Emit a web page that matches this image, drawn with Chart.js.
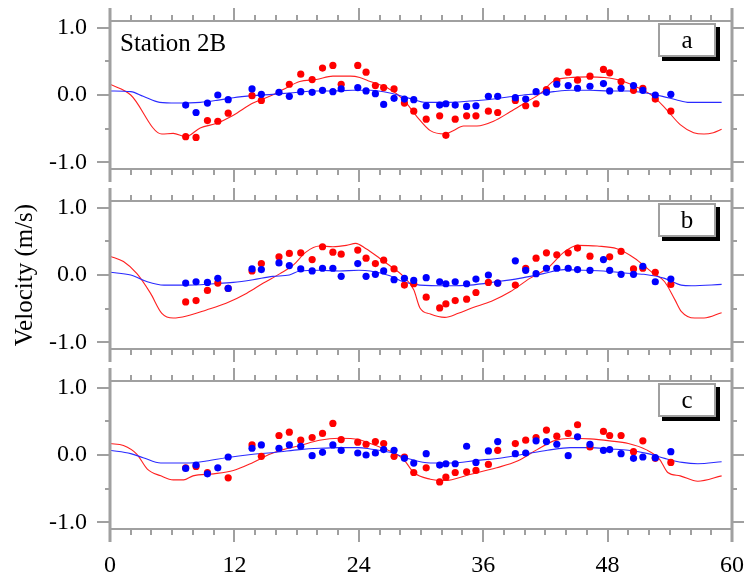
<!DOCTYPE html>
<html>
<head>
<meta charset="utf-8">
<script src="https://cdn.jsdelivr.net/npm/chart.js@4/dist/chart.umd.min.js"></script>
<style>
  body { margin: 0; background: #fff; }
  #wrap { position: relative; width: 747px; height: 582px; background: #fff; overflow: hidden; }
  canvas { position: absolute; left: 0; }
  .tag {
    position: absolute; left: 658px; width: 54px; height: 30px;
    border: 2px solid #a0a0a0; background: #fff; box-shadow: 4px 4px 0 #000;
    font: 25px "Liberation Serif", serif; line-height: 30px; text-align: center; color: #000;
  }
  .station { position: absolute; left: 120px; top: 30px; font: 25px "Liberation Serif", serif; line-height: 1; color: #000; }
</style>
</head>
<body>
<div id="wrap">
  <canvas id="panelA" width="747" height="190" style="top:0"></canvas>
  <canvas id="panelB" width="747" height="190" style="top:180px"></canvas>
  <canvas id="panelC" width="747" height="222" style="top:360px"></canvas>
  <div class="station">Station 2B</div>
  <div class="tag" style="top:23px">a</div>
  <div class="tag" style="top:203px">b</div>
  <div class="tag" style="top:383px">c</div>
</div>
<script>
/* ============================================================
   DATA (hours, velocity m/s)
   ============================================================ */

const hours = [7.3, 8.3, 9.4, 10.4, 11.4, 13.7, 14.6, 16.3, 17.3, 18.4, 19.5, 20.5, 21.5, 22.3, 23.9, 24.7,
  25.6, 26.4, 27.4, 28.4, 29.3, 30.5, 31.8, 32.4, 33.3, 34.4, 35.3, 36.5, 37.4, 39.1, 40.1, 41.1,
  42.1, 43.1, 44.2, 45.1, 46.3, 47.6, 48.2, 49.3, 50.5, 51.4, 52.6, 54.1];

// observed points
const redObsA  = [-0.62, -0.63, -0.38, -0.39, -0.27, -0.01, -0.08, null, 0.16, 0.31, 0.23, 0.40, 0.44, 0.16, 0.44, 0.34,
  0.14, 0.11, 0.09, -0.12, -0.24, -0.36, -0.31, -0.60, -0.36, -0.31, -0.31, -0.24, -0.26, -0.08, -0.16, -0.13,
  0.08, 0.21, 0.34, 0.22, 0.28, 0.38, 0.33, 0.20, 0.07, 0.10, -0.06, -0.24];
const blueObsA = [-0.15, -0.26, -0.12, 0.00, -0.07, 0.09, 0.01, 0.04, -0.02, 0.05, 0.04, 0.07, 0.05, 0.09, 0.11, 0.06,
  0.02, -0.14, -0.05, -0.06, -0.07, -0.16, -0.15, -0.13, -0.15, -0.17, -0.16, -0.02, -0.02, -0.04, -0.06, 0.05,
  0.04, 0.16, 0.14, 0.10, 0.13, 0.17, 0.06, 0.10, 0.14, 0.07, 0.00, 0.01];

const redObsB  = [-0.40, -0.38, -0.23, -0.12, -0.20, 0.06, 0.17, 0.27, 0.32, 0.33, 0.23, 0.42, 0.34, 0.31, 0.37, 0.25,
  0.17, 0.22, 0.09, -0.15, -0.13, -0.33, -0.49, -0.43, -0.38, -0.36, -0.26, -0.11, -0.12, -0.15, 0.10, 0.25,
  0.33, 0.30, 0.33, 0.40, 0.28, null, 0.27, 0.35, 0.09, 0.10, 0.04, -0.14];
const blueObsB = [-0.12, -0.10, -0.11, -0.05, -0.20, 0.09, 0.08, 0.18, 0.14, 0.09, 0.06, 0.10, 0.10, -0.02, 0.17, -0.02,
  0.01, 0.06, -0.07, -0.05, -0.08, -0.04, -0.10, -0.13, -0.10, -0.13, -0.06, 0.00, -0.12, 0.21, 0.07, 0.02,
  0.10, 0.10, 0.10, 0.08, 0.07, 0.23, 0.07, 0.01, 0.01, 0.13, -0.10, -0.06];

const redObsC  = [-0.19, -0.17, -0.26, null, -0.34, 0.15, -0.02, 0.29, 0.34, 0.22, 0.26, 0.32, 0.47, 0.23, 0.19, 0.16,
  0.20, 0.17, -0.02, -0.03, -0.26, -0.19, -0.40, -0.33, -0.26, -0.25, -0.23, -0.14, 0.07, 0.17, 0.22, 0.26,
  0.37, 0.28, 0.32, 0.45, 0.12, 0.35, 0.29, 0.29, 0.05, 0.21, -0.05, -0.11];
const blueObsC = [-0.20, -0.15, -0.28, -0.19, -0.03, 0.10, 0.15, 0.10, 0.15, 0.13, -0.01, 0.04, 0.15, 0.07, 0.03, 0.00,
  0.03, 0.08, 0.07, -0.05, -0.12, 0.02, -0.15, -0.13, -0.13, 0.13, -0.11, 0.06, 0.20, 0.02, 0.03, 0.21,
  0.20, 0.16, -0.01, 0.27, 0.16, 0.07, 0.08, 0.02, -0.05, -0.03, -0.04, 0.05];

// model curves [hour, velocity]
const redModelA = [[0, 0.16], [2, 0.00], [5, -0.58], [6.1, -0.57], [7.3, -0.62], [8.7, -0.49], [10.3, -0.42], [11.9, -0.30],
  [13.8, -0.12], [15.4, -0.02], [16.7, 0.08], [18.3, 0.20], [19.9, 0.23], [21.5, 0.28], [23.2, 0.28], [24.1, 0.26],
  [25.1, 0.20], [26.7, 0.11], [28.3, -0.07], [29.6, -0.32], [30.9, -0.53], [32.3, -0.58], [33.1, -0.53], [34.1, -0.46],
  [35.4, -0.46], [37, -0.39], [38.6, -0.25], [40.2, -0.10], [41.5, 0.02], [42.8, 0.21], [44.4, 0.26], [46.1, 0.27],
  [47.7, 0.26], [49.2, 0.22], [50.8, 0.12], [52.4, -0.02], [53.7, -0.22], [55, -0.44], [56.3, -0.56], [57.3, -0.58],
  [58.2, -0.56], [59, -0.51]];
const blueModelA = [[0, 0.06], [2, 0.05], [3.2, -0.02], [4.8, -0.11], [6.4, -0.12], [8.7, -0.11], [10.3, -0.08], [11.9, -0.04],
  [13.8, -0.01], [15.7, 0.01], [17.3, 0.03], [19.9, 0.06], [21.5, 0.06], [23.4, 0.07], [25.1, 0.07], [27, 0.03],
  [28.9, -0.05], [30.5, -0.11], [32.5, -0.11], [34.7, -0.09], [37, -0.06], [39.3, -0.01], [41.2, 0.02], [42.8, 0.05],
  [44.4, 0.07], [46.3, 0.07], [48.2, 0.06], [50, 0.06], [51.7, 0.03], [53.3, -0.02], [54.6, -0.07], [55.9, -0.11], [59, -0.11]];

const redModelB = [[0, 0.28], [1.3, 0.20], [2.6, 0.02], [3.9, -0.27], [5, -0.57], [6.1, -0.64], [7.4, -0.61], [9.3, -0.52],
  [11.2, -0.42], [13.2, -0.27], [14.8, -0.12], [16.4, 0.02], [17.7, 0.15], [18.9, 0.34], [20.2, 0.43], [21.5, 0.42],
  [22.8, 0.44], [23.7, 0.47], [24.7, 0.39], [25.1, 0.35], [26, 0.25], [26.7, 0.17], [28.3, -0.02], [29.3, -0.22],
  [29.9, -0.49], [30.9, -0.58], [32.3, -0.63], [33.6, -0.57], [34.9, -0.49], [36.8, -0.39], [38.6, -0.25], [40.5, -0.05],
  [42.2, 0.10], [43.8, 0.34], [45.1, 0.44], [47, 0.43], [48.9, 0.39], [50.6, 0.25], [52.2, 0.05], [53.5, -0.10],
  [54.5, -0.37], [55.1, -0.54], [56.4, -0.64], [57.3, -0.64], [59, -0.56]];
const blueModelB = [[0, 0.04], [2, 0.00], [3.6, -0.10], [5.2, -0.15], [7.4, -0.15], [10, -0.13], [11.9, -0.11], [13.8, -0.07],
  [15.7, -0.02], [17.3, 0.00], [18.3, 0.06], [20.2, 0.07], [22.1, 0.06], [24, 0.07], [25.1, 0.06], [27, -0.01],
  [28.3, -0.10], [29.9, -0.15], [32.5, -0.16], [34.7, -0.15], [37.3, -0.10], [39.5, -0.05], [41.8, 0.02], [43.8, 0.08],
  [45.7, 0.07], [47.6, 0.06], [49.6, 0.03], [51.5, 0.01], [53.5, -0.05], [55.1, -0.15], [56.1, -0.16], [59, -0.14]];

const redModelC = [[0, 0.17], [1.3, 0.14], [2.6, 0.01], [3.6, -0.21], [4.9, -0.31], [6.1, -0.37], [7.1, -0.37], [8, -0.31],
  [10, -0.28], [11.9, -0.23], [13.8, -0.11], [15.4, 0.01], [16.7, 0.08], [18.3, 0.14], [20.2, 0.22], [22.1, 0.25],
  [24, 0.23], [25.1, 0.17], [26, 0.12], [27, 0.06], [28.3, -0.06], [29.3, -0.26], [30.9, -0.36], [32.3, -0.38],
  [34.7, -0.29], [37.3, -0.19], [39.3, -0.09], [41.2, 0.08], [42.8, 0.21], [44.4, 0.25], [46.3, 0.24], [48.2, 0.21],
  [50, 0.17], [51.7, 0.08], [53, -0.06], [53.8, -0.26], [55, -0.31], [56.7, -0.39], [59, -0.31]];
const blueModelC = [[0, 0.07], [2, 0.02], [3.2, -0.04], [4.9, -0.12], [7.4, -0.12], [9.3, -0.09], [11.2, -0.04], [13.8, 0.01],
  [16, 0.04], [18.3, 0.08], [20.2, 0.10], [22.1, 0.11], [24, 0.11], [25.1, 0.09], [27, 0.04], [28.9, -0.06],
  [30.9, -0.12], [32.8, -0.12], [35.4, -0.08], [37.9, -0.04], [40.2, 0.02], [42.2, 0.07], [44.4, 0.11], [46.3, 0.11],
  [48.2, 0.09], [50, 0.07], [51.9, 0.02], [53.5, -0.05], [55.2, -0.11], [56.7, -0.13], [59, -0.10]];

// axes
const xTicks = [0, 2, 4, 6, 8, 10, 12, 14, 16, 18, 20, 22, 24, 26, 28, 30, 32, 34, 36, 38, 40, 42, 44, 46, 48, 50, 52, 54, 56, 58, 60];
const xLabelled = [0, 12, 24, 36, 48, 60];
const yTicks = [-1, -0.5, 0, 0.5, 1];
const yLabelled = [-1, 0, 1];

/* ============================================================
   HELPERS
   ============================================================ */

const FRAME = '#a0a0a0';
const SERIF = "'Liberation Serif', 'Times New Roman', serif";

const pairs  = arr => arr.map(([x, y]) => ({ x, y }));
const points = vals => hours.map((h, i) => ({ x: h, y: vals[i] })).filter(p => p.y !== null);

// box frame with outward major/minor ticks on all four sides
const framePlugin = {
  id: 'frame',
  afterDatasetsDraw(chart) {
    const { ctx, chartArea: a, scales: { x, y } } = chart;
    ctx.save();
    ctx.strokeStyle = FRAME;

    ctx.lineWidth = 2;
    ctx.beginPath();
    ctx.moveTo(a.left, a.top); ctx.lineTo(a.right, a.top);
    ctx.moveTo(a.left, a.bottom); ctx.lineTo(a.right, a.bottom);
    xTicks.forEach(v => {
      if (v === 0 || v === 60) return;
      const px = Math.round(x.getPixelForValue(v));
      const len = v % 12 === 0 ? 13 : 6;
      ctx.moveTo(px, a.top); ctx.lineTo(px, a.top - len);
      ctx.moveTo(px, a.bottom); ctx.lineTo(px, a.bottom + len);
    });
    yTicks.forEach(v => {
      const py = Math.round(y.getPixelForValue(v));
      const major = yLabelled.includes(v);
      ctx.moveTo(a.left, py); ctx.lineTo(a.left - (major ? 13 : 5), py);
      ctx.moveTo(a.right, py); ctx.lineTo(a.right + (major ? 12 : 5), py);
    });
    ctx.stroke();

    ctx.lineWidth = 3;
    ctx.beginPath();
    ctx.moveTo(a.left, a.top - 13); ctx.lineTo(a.left, a.bottom + 13);
    ctx.moveTo(a.right, a.top - 13); ctx.lineTo(a.right, a.bottom + 13);
    ctx.stroke();
    ctx.restore();
  },
};

/* ============================================================
   PANELS
   ============================================================ */

function renderPanel(id, redObs, blueObs, redModel, blueModel, opts) {
  const showX = !!opts.showX;
  return new Chart(document.getElementById(id), {
    type: 'scatter',
    data: {
      datasets: [
        { data: points(blueObs), backgroundColor: '#0000ff', pointRadius: 3.6, pointBorderWidth: 0, pointHoverRadius: 3.6 },
        { data: points(redObs),  backgroundColor: '#ff0000', pointRadius: 3.6, pointBorderWidth: 0, pointHoverRadius: 3.6 },
        { data: pairs(blueModel), showLine: true, borderColor: '#2a2aff', borderWidth: 1.1, pointRadius: 0, cubicInterpolationMode: 'monotone' },
        { data: pairs(redModel),  showLine: true, borderColor: '#ff2020', borderWidth: 1.1, pointRadius: 0, cubicInterpolationMode: 'monotone' },
      ],
    },
    options: {
      responsive: false,
      animation: false,
      events: [],
      layout: { padding: { top: 21, right: 15, left: 0, bottom: showX ? 0 : 21 } },
      plugins: { legend: { display: false }, tooltip: { enabled: false } },
      scales: {
        x: {
          type: 'linear', min: 0, max: 60,
          display: showX,
          afterBuildTicks: s => { s.ticks = xTicks.map(v => ({ value: v })); },
          afterFit: s => { s.height = showX ? 53 : 0; s.paddingLeft = 0; s.paddingRight = 0; },
          grid: { display: false, drawTicks: false },
          border: { display: false },
          ticks: {
            autoSkip: false, maxRotation: 0, padding: 22, color: '#000',
            font: { family: SERIF, size: 24 },
            callback: v => xLabelled.includes(v) ? String(v) : '',
          },
        },
        y: {
          type: 'linear', min: -1.1, max: 1.1,
          afterBuildTicks: s => { s.ticks = yTicks.map(v => ({ value: v })); },
          afterFit: s => { s.width = 110; s.paddingTop = 0; s.paddingBottom = 0; },
          grid: { display: false, drawTicks: false },
          border: { display: false },
          ticks: {
            padding: 23, color: '#000',
            font: { family: SERIF, size: 24 },
            callback: v => yLabelled.includes(v) ? v.toFixed(1) : '',
          },
          title: {
            display: !!opts.title, text: opts.title || '', color: '#000',
            font: { family: SERIF, size: 25 }, padding: { top: 10, bottom: 0 },
          },
        },
      },
    },
    plugins: [framePlugin],
  });
}

renderPanel('panelA', redObsA, blueObsA, redModelA, blueModelA, {});
renderPanel('panelB', redObsB, blueObsB, redModelB, blueModelB, { title: 'Velocity (m/s)' });
renderPanel('panelC', redObsC, blueObsC, redModelC, blueModelC, { showX: true });
</script>
</body>
</html>
